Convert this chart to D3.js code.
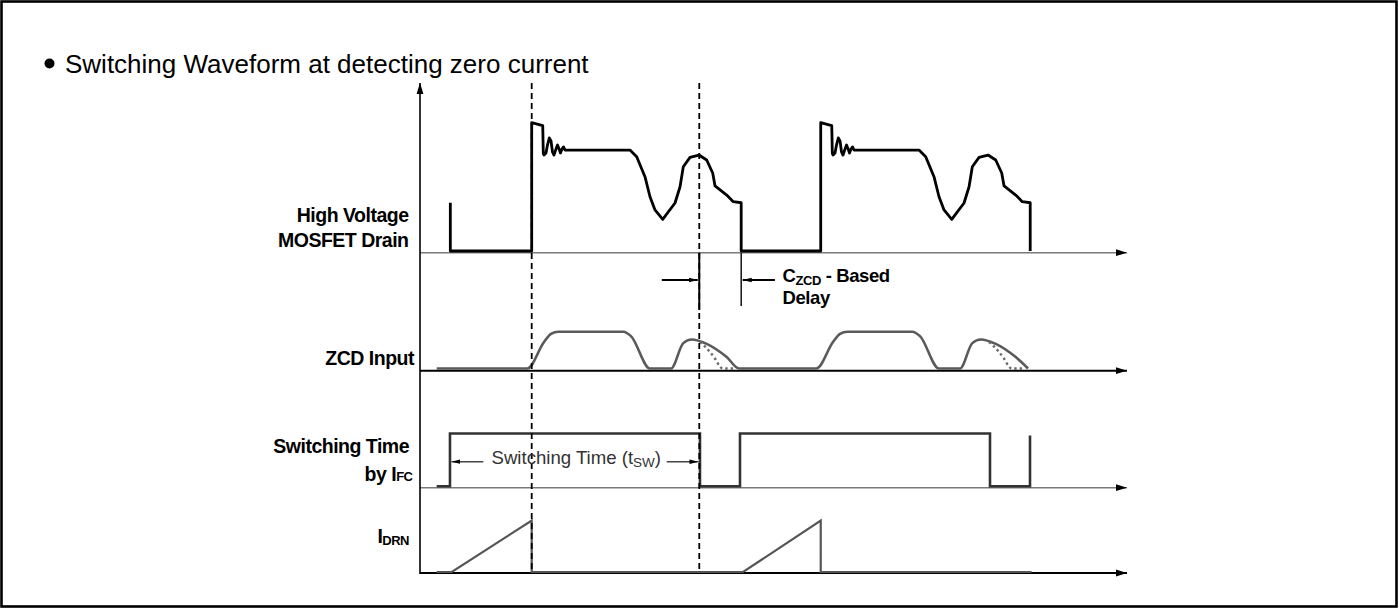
<!DOCTYPE html>
<html>
<head>
<meta charset="utf-8">
<script src="https://cdn.jsdelivr.net/npm/d3@7"></script>
<style>
  html, body { margin: 0; padding: 0; background: #fff; }
  svg { display: block; }
  text { font-family: "Liberation Sans", Arial, Helvetica, sans-serif; }
</style>
</head>
<body>
<svg id="chart" width="1399" height="609"></svg>
<script>
// ---------------- DATA (time in arbitrary units 0..100, values per channel) ----------------
const title = "Switching Waveform at detecting zero current";

const channelLabels = [
  ["High Voltage", "MOSFET Drain"],
  ["ZCD Input"],
  ["Switching Time", "by I|FC"],
  ["I|DRN"]
];

// High Voltage MOSFET Drain (0..100 relative voltage)
const drainT = [4.29,4.29,15.8,15.8,17.36,17.44,17.54,17.82,18.03,18.29,18.53,18.74,18.95,19.24,19.45,19.73,19.87,20.08,20.3,20.51,
  29.7,30.65,31.82,32.53,33.24,34.33,36.07,36.78,37.24,38.19,39.46,40.55,41.4,41.73,43.38,44.31,45.43,45.43,
  56.68,56.68,58.24,58.32,58.42,58.7,58.91,59.17,59.41,59.62,59.83,60.12,60.33,60.61,60.75,60.96,61.18,61.39,
  70.58,71.53,72.7,73.41,74.12,75.21,76.95,77.66,78.12,79.07,80.34,81.43,82.28,82.61,84.26,85.19,86.31,86.31];
const drainV = [37.6,0,0,100,97.7,76.1,74.8,76.4,82.6,88.1,85.8,77.2,74.8,79.5,82.6,78.7,76.4,79.5,81.1,78.7,
  78.7,73.5,57.9,42.3,32,24.7,37.4,50.1,65.7,73,74.8,70.9,60.8,50.7,43.6,38.4,37.6,0,
  0,100,97.7,76.1,74.8,76.4,82.6,88.1,85.8,77.2,74.8,79.5,82.6,78.7,76.4,79.5,81.1,78.7,
  78.7,73.5,57.9,42.3,32,24.7,37.4,50.1,65.7,73,74.8,70.9,60.8,50.7,43.6,38.4,37.6,0];

// ZCD input (0..1)
const zcdT = [2.36,15.18,17.54,18.53,19.56,28.76,29.84,32.53,35.5,37.24,38.43,40.55,43.38,45.12,
  56.06,58.42,59.41,60.44,69.64,70.72,73.41,76.38,78.12,79.31,81.43,84.26,86.0];
const zcdV = [0,0,0.72,0.94,1,1,0.88,0,0,0.69,0.79,0.67,0.31,0,
  0,0.72,0.94,1,1,0.88,0,0,0.69,0.79,0.67,0.31,0];
// dotted (shorter delay) ZCD tails
const zcdDot1T = [39.6,40.3,41.0,41.7,42.4,42.8,44.6];
const zcdDot2T = [80.48,81.18,81.88,82.58,83.28,83.68,85.48];
const zcdDotV  = [0.72,0.6,0.45,0.28,0.06,0,0];

// Switching time by IFC (logic 0/1)
const swT = [2.36,4.24,4.24,39.6,39.6,45.26,45.26,80.62,80.62,86.28,86.28];
const swV = [0,0,1,1,0,0,1,1,0,0,0.96];

// IDRN (0..1)
const idrnT = [2.36,4.5,15.8,15.8,45.7,56.68,56.68,86.5];
const idrnV = [0,0,1,0,0,1,0,0];

// event markers (time)
const markerT = [15.8, 39.5];
const delayEndT = 45.43;

// ---------------- DRAWING ----------------
const svg = d3.select("#chart");

const x = d3.scaleLinear().domain([0, 100]).range([420, 1127]);
const yDrain = d3.scaleLinear().domain([0, 100]).range([251, 122.7]);
const yZcd   = d3.scaleLinear().domain([0, 1]).range([368.5, 331.7]);
const ySw    = d3.scaleLinear().domain([0, 1]).range([486.3, 433.5]);
const yIdrn  = d3.scaleLinear().domain([0, 1]).range([572, 520.5]);
const axisY = [252.7, 370.7, 487.7, 573];

const defs = svg.append("defs");
defs.append("marker").attr("id", "ah").attr("markerUnits", "userSpaceOnUse")
  .attr("markerWidth", 12).attr("markerHeight", 8).attr("refX", 11).attr("refY", 4)
  .attr("orient", "auto")
  .append("path").attr("d", "M0,0.6 L11,4 L0,7.4 Z").attr("fill", "#000");
defs.append("marker").attr("id", "ahs").attr("markerUnits", "userSpaceOnUse")
  .attr("markerWidth", 10).attr("markerHeight", 6).attr("refX", 9).attr("refY", 3)
  .attr("orient", "auto")
  .append("path").attr("d", "M0,0.8 L9,3 L0,5.2 Z").attr("fill", "#000");

// border
svg.append("rect").attr("x", 1.5).attr("y", 1.5).attr("width", 1395).attr("height", 605)
  .attr("fill", "none").attr("stroke", "#000").attr("stroke-width", 2.6);

// title
svg.append("circle").attr("cx", 49.5).attr("cy", 63.5).attr("r", 5).attr("fill", "#000");
svg.append("text").attr("x", 65).attr("y", 73).attr("font-size", 26).attr("fill", "#000")
  .text(title);

// horizontal axes
const axisStyle = [["#7a7a7a", 1.6], ["#000", 2], ["#7a7a7a", 1.6], ["#000", 2]];
axisY.forEach((ay, i) => {
  svg.append("line").attr("x1", x(0)).attr("x2", x(100)).attr("y1", ay).attr("y2", ay)
    .attr("stroke", axisStyle[i][0]).attr("stroke-width", axisStyle[i][1])
    .attr("marker-end", "url(#ah)");
});
// vertical axis
svg.append("line").attr("x1", x(0)).attr("x2", x(0)).attr("y1", axisY[3] + 1).attr("y2", 83)
  .attr("stroke", "#000").attr("stroke-width", 1.6).attr("marker-end", "url(#ah)");

const zip = (ts, vs) => ts.map((t, i) => [t, vs[i]]);
const line = (ys, curve) => d3.line().x(d => x(d[0])).y(d => ys(d[1])).curve(curve || d3.curveLinear);

// Drain waveform
svg.append("path").datum(zip(drainT, drainV)).attr("d", line(yDrain))
  .attr("fill", "none").attr("stroke", "#000").attr("stroke-width", 2.8).attr("stroke-linejoin", "round");

// ZCD input
svg.append("path").datum(zip(zcdT, zcdV)).attr("d", line(yZcd, d3.curveMonotoneX))
  .attr("fill", "none").attr("stroke", "#5a5a5a").attr("stroke-width", 2.6);
[zcdDot1T, zcdDot2T].forEach(ts => {
  svg.append("path").datum(zip(ts, zcdDotV)).attr("d", line(yZcd, d3.curveMonotoneX))
    .attr("fill", "none").attr("stroke", "#6a6a6a").attr("stroke-width", 2.4)
    .attr("stroke-dasharray", "2.4,3");
});

// Switching time
svg.append("path").datum(zip(swT, swV)).attr("d", line(ySw))
  .attr("fill", "none").attr("stroke", "#333").attr("stroke-width", 2.6).attr("stroke-linejoin", "miter");

// IDRN
svg.append("path").datum(zip(idrnT, idrnV)).attr("d", line(yIdrn))
  .attr("fill", "none").attr("stroke", "#555").attr("stroke-width", 2.2);

// dashed event markers
markerT.forEach(t => {
  svg.append("line").attr("x1", x(t)).attr("x2", x(t)).attr("y1", 83).attr("y2", axisY[3])
    .attr("stroke", "#000").attr("stroke-width", 1.8).attr("stroke-dasharray", "6,4");
});

// CZCD-based delay annotation
svg.append("line").attr("x1", x(markerT[1])).attr("x2", x(markerT[1])).attr("y1", axisY[0]).attr("y2", 310)
  .attr("stroke", "#000").attr("stroke-width", 2);
svg.append("line").attr("x1", x(delayEndT)).attr("x2", x(delayEndT)).attr("y1", axisY[0]).attr("y2", 306)
  .attr("stroke", "#000").attr("stroke-width", 1.4);
svg.append("line").attr("x1", x(34.2)).attr("x2", x(markerT[1]) - 1.5).attr("y1", 280).attr("y2", 280)
  .attr("stroke", "#000").attr("stroke-width", 1.8).attr("marker-end", "url(#ahs)");
svg.append("line").attr("x1", x(50.2)).attr("x2", x(delayEndT) + 1.5).attr("y1", 280).attr("y2", 280)
  .attr("stroke", "#000").attr("stroke-width", 1.8).attr("marker-end", "url(#ahs)");
const cz = svg.append("text").attr("x", 782.5).attr("y", 282).attr("font-size", 18.5)
  .attr("font-weight", "bold").attr("letter-spacing", -0.4);
cz.append("tspan").text("C");
cz.append("tspan").attr("font-size", 13).attr("dy", 3).text("ZCD");
cz.append("tspan").attr("dy", -3).text(" - Based");
svg.append("text").attr("x", 782.5).attr("y", 303.5).attr("font-size", 18.5)
  .attr("font-weight", "bold").attr("letter-spacing", -0.4).text("Delay");

// Switching time (tSW) annotation
svg.append("line").attr("x1", x(8.95)).attr("x2", x(4.24) + 1.5).attr("y1", 461.7).attr("y2", 461.7)
  .attr("stroke", "#444").attr("stroke-width", 1.4).attr("marker-end", "url(#ahs)");
svg.append("line").attr("x1", x(34.9)).attr("x2", x(39.6) - 1.5).attr("y1", 461.7).attr("y2", 461.7)
  .attr("stroke", "#444").attr("stroke-width", 1.4).attr("marker-end", "url(#ahs)");
const st = svg.append("text").attr("x", 491.5).attr("y", 463.5).attr("font-size", 18.6).attr("fill", "#333");
st.append("tspan").text("Switching Time (t");
st.append("tspan").attr("font-size", 13.5).attr("dy", 3).text("SW");
st.append("tspan").attr("dy", -3).text(")");

// channel labels (right aligned)
const labelRight = [408.5, 414, 409, 409];
const labelBase = [[221.7, 246.7], [365], [452.7, 480.7], [543.3]];
channelLabels.forEach((lines, i) => {
  lines.forEach((s, j) => {
    const t = svg.append("text").attr("x", labelRight[i] + (s.includes("|") && i === 2 ? 3.5 : 0))
      .attr("y", labelBase[i][j]).attr("text-anchor", "end")
      .attr("font-size", 19.5).attr("font-weight", "bold").attr("letter-spacing", -0.5);
    if (s.includes("|")) {
      const [a, b] = s.split("|");
      t.append("tspan").text(a);
      t.append("tspan").attr("font-size", 13).attr("dy", i === 3 ? 2 : 0).text(b);
    } else {
      t.text(s);
    }
  });
});
</script>
</body>
</html>
